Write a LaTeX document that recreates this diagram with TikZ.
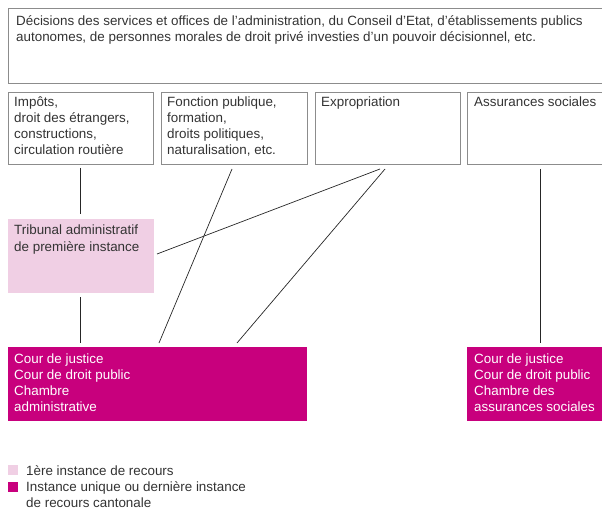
\documentclass[tikz,border=0pt]{standalone}
\usepackage{fontspec}
\setmainfont{Liberation Sans}
\definecolor{txt}{HTML}{333333}
\definecolor{boxline}{HTML}{8C8C8C}
\definecolor{lightpink}{HTML}{F0CFE4}
\definecolor{magenta}{HTML}{C8007D}
\tikzset{
  box/.style={draw=boxline, line width=0.8bp, anchor=north west, inner sep=0, outer sep=0},
  pinkbox/.style={fill=lightpink, anchor=north west, inner sep=0, outer sep=0},
  magbox/.style={fill=magenta, anchor=north west, inner sep=0, outer sep=0},
  % anchored at the baseline of the LAST line
  txtnode/.style={anchor=base west, inner sep=0, align=left, text=txt,
    font=\fontsize{13.4bp}{16bp}\selectfont},
  whitetxt/.style={txtnode, text=white},
  conn/.style={draw=black!85, line width=0.7bp},
}
\begin{document}
\begin{tikzpicture}[x=1bp,y=-1bp]
\useasboundingbox (0,0) rectangle (602,509);
% top box
\node[box, minimum width=594bp, minimum height=75bp] (top) at (8,8) {};
\node[txtnode] (toptext) at (16,42) {Décisions des services et offices de l’administration, du Conseil d’Etat, d’établissements publics\\autonomes, de personnes morales de droit privé investies d’un pouvoir décisionnel, etc.};
% row boxes
\node[box, minimum width=145bp, minimum height=72bp] (b1) at (8,92) {};
\node[box, minimum width=146bp, minimum height=72bp] (b2) at (161,92) {};
\node[box, minimum width=145bp, minimum height=72bp] (b3) at (315,92) {};
\node[box, minimum width=136bp, minimum height=72bp] (b4) at (467,92) {};
\node[txtnode] (t1) at (14,155) {Impôts,\\droit des étrangers,\\constructions,\\circulation routière};
\node[txtnode] (t2) at (167,155) {Fonction publique,\\formation,\\droits politiques,\\naturalisation, etc.};
\node[txtnode] (t3) at (321,107) {Expropriation};
\node[txtnode] (t4) at (474,107) {Assurances sociales};
% tribunal
\node[pinkbox, minimum width=146bp, minimum height=74bp] (trib) at (8,219) {};
\node[txtnode] (ttrib) at (14,251) {Tribunal administratif\\de première instance};
% magenta boxes
\node[magbox, minimum width=299bp, minimum height=74bp] (cj1) at (8,347) {};
\node[magbox, minimum width=135bp, minimum height=74bp] (cj2) at (467,347) {};
\node[whitetxt] (tcj1) at (14,411) {Cour de justice\\Cour de droit public\\Chambre\\administrative};
\node[whitetxt] (tcj2) at (474,411) {Cour de justice\\Cour de droit public\\Chambre des\\assurances sociales};
% connector end points
\coordinate (a1) at (80,168);
\coordinate (a2) at (80,214);
\coordinate (a3) at (80,297);
\coordinate (a4) at (80,343);
\coordinate (c1) at (232,169);
\coordinate (c2) at (159,343);
\coordinate (e1) at (380,169);
\coordinate (e2) at (157,254);
\coordinate (f1) at (385,169);
\coordinate (f2) at (237,343);
\coordinate (g1) at (540,169);
\coordinate (g2) at (540,343);
\draw[conn] (a1) -- (a2);
\draw[conn] (a3) -- (a4);
\draw[conn] (c1) -- (c2);
\draw[conn] (e1) -- (e2);
\draw[conn] (f1) -- (f2);
\draw[conn] (g1) -- (g2);
% legend
\node[pinkbox, minimum width=10bp, minimum height=10bp] (l1) at (8,465) {};
\node[magbox, minimum width=10bp, minimum height=10bp] (l2) at (8,482) {};
\node[txtnode] (lt1) at (26,475) {1ère instance de recours};
\node[txtnode] (lt2) at (26,507) {Instance unique ou dernière instance\\de recours cantonale};
\end{tikzpicture}
\end{document}
